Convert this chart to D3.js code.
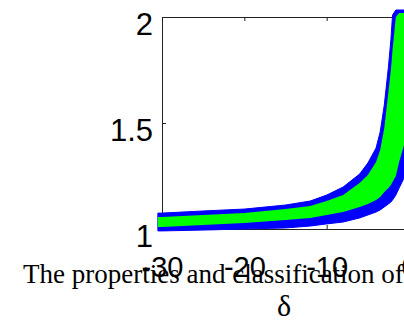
<!DOCTYPE html>
<html>
<head>
<meta charset="utf-8">
<script src="https://cdn.jsdelivr.net/npm/d3@7"></script>
<style>
  body { margin: 0; background: #fff; }
  svg { display: block; }
</style>
</head>
<body>
<svg id="chart" width="404" height="322"></svg>
<script>
// delta samples along the band
var delta = [-30.5, -30, -25, -20, -15, -12, -10, -8, -6, -5, -4, -3.5, -3, -2.5, -2.2, -2, -1.6, -1.2, -0.6];
// outer (blue) and inner (green) edges of the band
var upperBlue  = [1.075, 1.075, 1.085, 1.094, 1.113, 1.132, 1.160, 1.198, 1.259, 1.311, 1.382, 1.458, 1.585, 1.764, 1.892, 2.009, 2.033, 2.033, 2.033];
var upperGreen = [1.057, 1.057, 1.066, 1.075, 1.094, 1.108, 1.132, 1.160, 1.217, 1.255, 1.316, 1.373, 1.476, 1.646, 1.750, 1.844, 2.000, 2.019, 2.019];
var lowerGreen = [1.009, 1.009, 1.019, 1.028, 1.042, 1.052, 1.066, 1.080, 1.104, 1.118, 1.137, 1.151, 1.175, 1.193, 1.208, 1.222, 1.250, 1.316, 1.396];
var lowerBlue  = [0.991, 0.991, 0.995, 1.000, 1.005, 1.014, 1.024, 1.033, 1.052, 1.066, 1.080, 1.090, 1.104, 1.118, 1.127, 1.137, 1.160, 1.193, 1.241];

var xTicks = [-30, -20, -10, 0];
var yTicks = [1, 1.5, 2];
var caption = "The properties and classification of";
var xLabel = "δ";

var svg = d3.select("#chart");
var x = d3.scaleLinear().domain([-30, 0]).range([162, 409]);
var y = d3.scaleLinear().domain([1, 2]).range([229, 17]);

// frame
var frame = svg.append("g").attr("stroke", "#222").attr("stroke-width", 1).attr("fill", "none");
frame.append("line").attr("x1", 162.5).attr("x2", 162.5).attr("y1", 17).attr("y2", 229.5);
frame.append("line").attr("x1", 162).attr("x2", 404).attr("y1", 17.5).attr("y2", 17.5);
frame.append("line").attr("x1", 162).attr("x2", 404).attr("y1", 229.5).attr("y2", 229.5);

// ticks pointing inward
var plain = function(d){ return String(d); };
var gx = svg.append("g").attr("transform", "translate(0,229)")
  .call(d3.axisBottom(x).tickValues(xTicks).tickSize(-4).tickPadding(0).tickFormat(plain));
var gxTop = svg.append("g").attr("transform", "translate(0,17)")
  .call(d3.axisTop(x).tickValues(xTicks).tickSize(-4).tickFormat(""));
var gy = svg.append("g").attr("transform", "translate(162,0)")
  .call(d3.axisLeft(y).tickValues(yTicks).tickSize(-4).tickPadding(9).tickFormat(plain));
[gx, gxTop, gy].forEach(function(g){
  g.select(".domain").remove();
  g.selectAll(".tick line").attr("stroke", "#222");
});
gx.selectAll("text").attr("dy", null).attr("y", 48)
  .style("font-family", "'Liberation Sans', Arial, sans-serif").style("font-size", "29px").attr("fill", "#000");
gy.selectAll("text").attr("dy", "17px")
  .style("font-family", "'Liberation Sans', Arial, sans-serif").style("font-size", "31px").attr("fill", "#000");

// band
var pts = delta.map(function(d, i){ return {d: d, ub: upperBlue[i], ug: upperGreen[i], lg: lowerGreen[i], lb: lowerBlue[i]}; });
var blueArea = d3.area().x(function(p){ return x(p.d); }).y0(function(p){ return y(p.lb); }).y1(function(p){ return y(p.ub); });
var greenArea = d3.area().x(function(p){ return x(p.d); }).y0(function(p){ return y(p.lg); }).y1(function(p){ return y(p.ug); });
svg.append("path").datum(pts).attr("d", blueArea).attr("fill", "#0000ff").attr("stroke", "#0000ff").attr("stroke-width", 1);
svg.append("path").datum(pts).attr("d", greenArea).attr("fill", "#00ff00");

// caption and axis label
svg.append("text").attr("x", 23).attr("y", 283).text(caption)
  .style("font-family", "'Liberation Serif', 'Times New Roman', serif").style("font-size", "27px").attr("fill", "#000");
svg.append("text").attr("x", 284).attr("y", 316).attr("text-anchor", "middle").text(xLabel)
  .style("font-family", "'Liberation Serif', 'Times New Roman', serif").style("font-size", "30px").attr("fill", "#000");
</script>
</body>
</html>
